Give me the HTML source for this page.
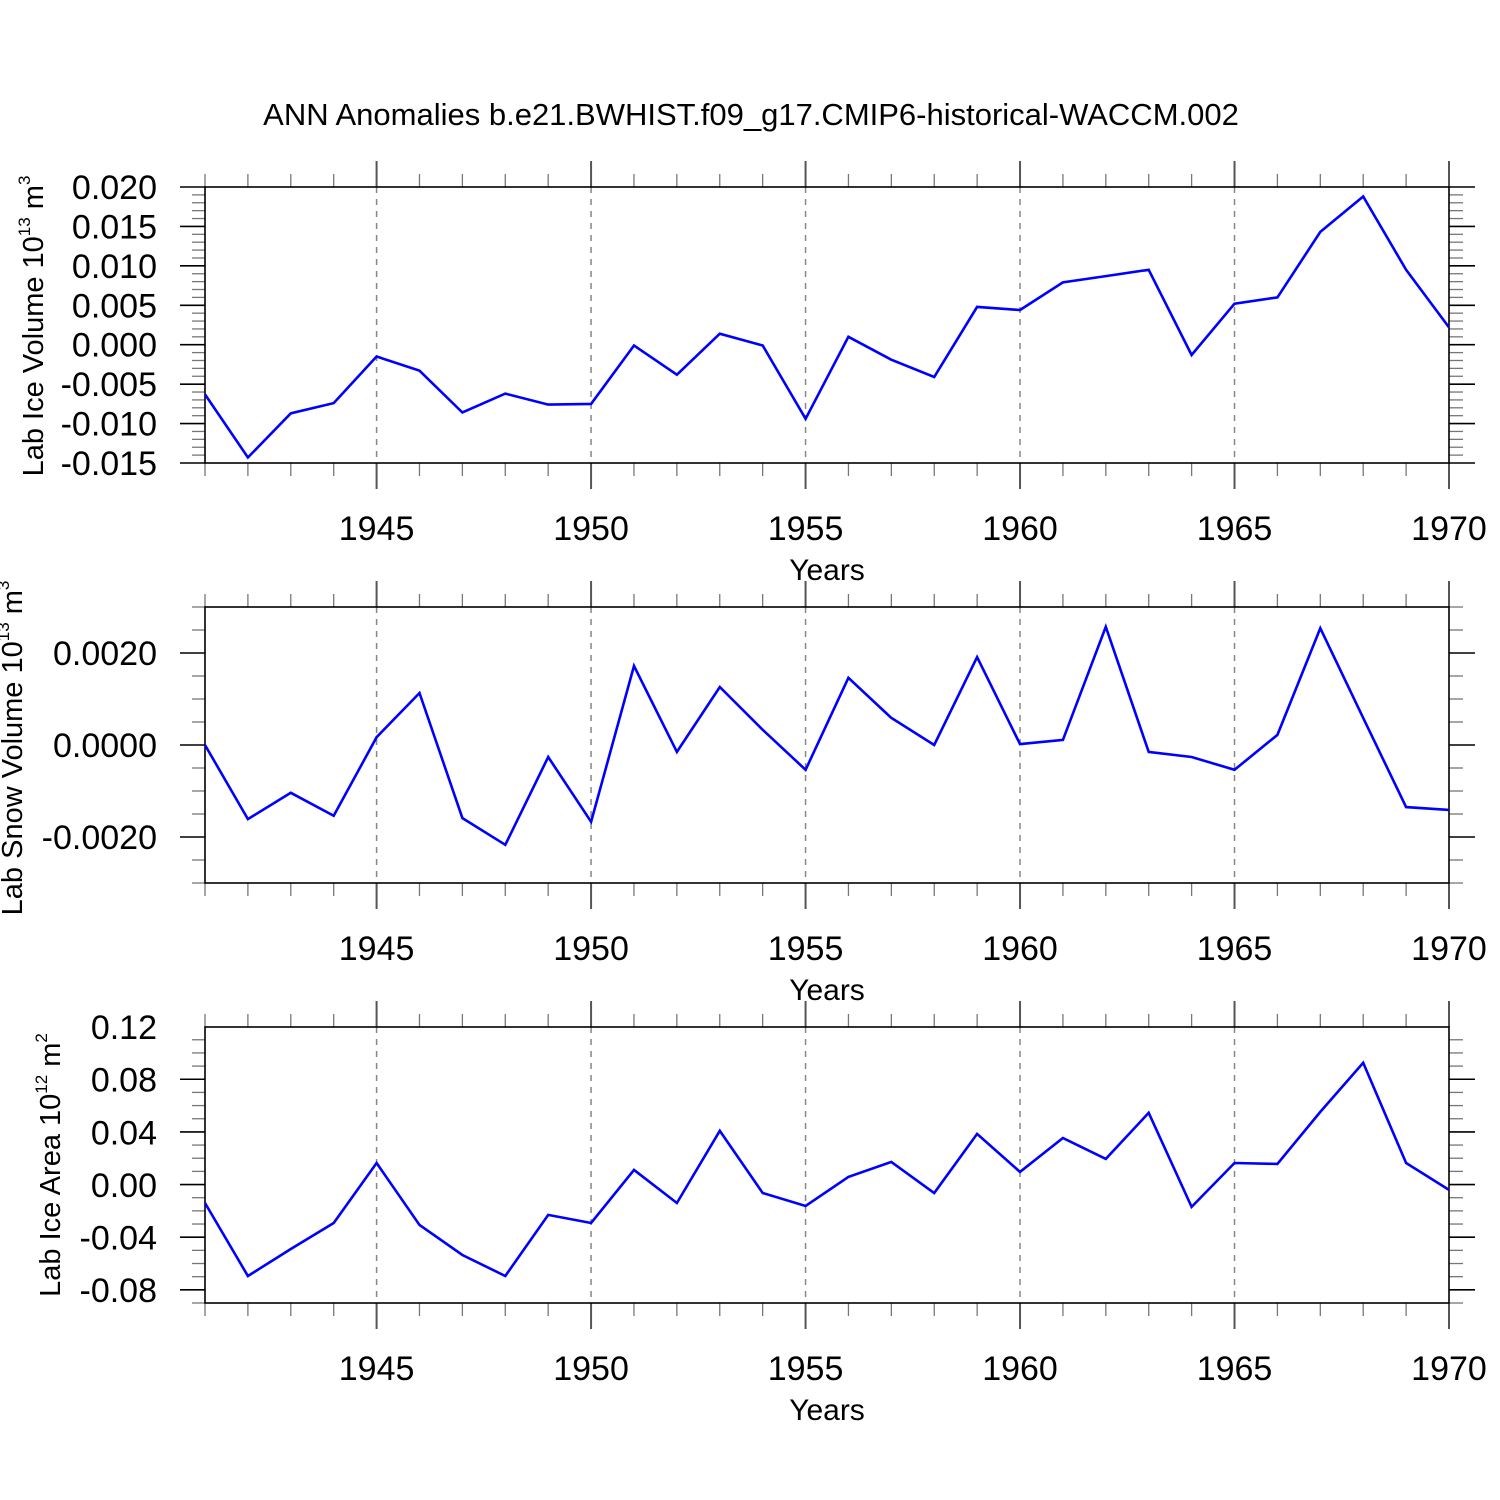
<!DOCTYPE html>
<html><head><meta charset="utf-8"><style>
html,body{margin:0;padding:0;background:#fff;}
svg{display:block;font-family:"Liberation Sans",Arial,sans-serif;}
</style></head><body>
<svg id="chart" width="1500" height="1500" viewBox="0 0 1500 1500" xmlns="http://www.w3.org/2000/svg">
<rect width="1500" height="1500" fill="#fff"/>
<text x="751" y="125" font-size="31" text-anchor="middle">ANN Anomalies b.e21.BWHIST.f09_g17.CMIP6-historical-WACCM.002</text>
</svg>
<script>
const years = [1941,1942,1943,1944,1945,1946,1947,1948,1949,1950,1951,1952,1953,1954,1955,1956,1957,1958,1959,1960,1961,1962,1963,1964,1965,1966,1967,1968,1969,1970];
const iceVolume = [-0.0063,-0.0143,-0.0087,-0.0074,-0.0015,-0.0033,-0.0086,-0.0062,-0.0076,-0.0075,-0.0001,-0.0038,0.0014,-0.0001,-0.0094,0.0010,-0.0019,-0.0041,0.0048,0.0044,0.0079,0.0087,0.0095,-0.0013,0.0052,0.0060,0.0143,0.0188,0.0095,0.0022];
const snowVolume = [0,-0.00161,-0.00104,-0.00154,0.00017,0.00113,-0.00159,-0.00217,-0.00026,-0.00167,0.00172,-0.00015,0.00126,0.00033,-0.00054,0.00146,0.00059,0,0.00191,0.00002,0.00011,0.00257,-0.00015,-0.00026,-0.00054,0.00022,0.00254,0.00059,-0.00135,-0.00141];
const iceArea = [-0.0137,-0.0692,-0.0487,-0.0289,0.0167,-0.0304,-0.0532,-0.0692,-0.0228,-0.0289,0.0114,-0.0137,0.0411,-0.0061,-0.016,0.0061,0.0175,-0.0061,0.0388,0.0099,0.0357,0.0198,0.0548,-0.0167,0.0167,0.016,0.0555,0.0928,0.0167,-0.0038];
const xTickLabels = ["1945","1950","1955","1960","1965","1970"];
const iceVolTicks = ["0.020","0.015","0.010","0.005","0.000","-0.005","-0.010","-0.015"];
const snowTicks = ["0.0020","0.0000","-0.0020"];
const areaTicks = ["0.12","0.08","0.04","0.00","-0.04","-0.08"];

const NS="http://www.w3.org/2000/svg";
const svg=document.getElementById('chart');
function mk(tag,attrs,parent){const e=document.createElementNS(NS,tag);for(const k in attrs)e.setAttribute(k,attrs[k]);(parent||svg).appendChild(e);return e;}
const X0=205,X1=1449,Y_MIN=1941,Y_MAX=1970;
function xs(yr){return X0+(yr-Y_MIN)/(Y_MAX-Y_MIN)*(X1-X0);}

function panel(cfg){
  const g=mk('g',{});
  
  
  const top=cfg.top,bot=cfg.top+276;
  const ys=v=>top+(cfg.max-v)/(cfg.max-cfg.min)*(bot-top);
  for(const l of xTickLabels){const yr=+l;if(yr>=Y_MAX)continue;
    const gl=mk('line',{x1:xs(yr),x2:xs(yr),y1:top,y2:bot,stroke:'#888','stroke-width':1.5,'stroke-dasharray':'6,6'},g);
    
    
  }
  for(let yr=Y_MIN;yr<=Y_MAX;yr++){const major=yr%5===0;const L=major?26:13;const x=xs(yr);
    mk('line',{x1:x,x2:x,y1:top-L,y2:top,stroke:major?'#555':'#777','stroke-width':major?2:1.3},g);
    mk('line',{x1:x,x2:x,y1:bot,y2:bot+L,stroke:major?'#555':'#777','stroke-width':major?2:1.3},g);
  }
  for(let v=cfg.min;v<=cfg.max+1e-9;v+=cfg.minor){
    const major=cfg.tickVals.some(t=>Math.abs(t-v)<cfg.minor/4);
    const L=major?25:13;const y=ys(v);
    mk('line',{x1:X0-L,x2:X0,y1:y,y2:y,stroke:major?'#000':'#777','stroke-width':major?1.6:1.3},g);
    mk('line',{x1:X1,x2:X1+L+1,y1:y,y2:y,stroke:major?'#000':'#777','stroke-width':major?1.6:1.3},g);
  }
  const fr=mk('rect',{x:X0,y:top,width:X1-X0,height:bot-top,fill:'none',stroke:'#000','stroke-width':1.6},g);
  
  
  cfg.tickLabels.forEach((t,i)=>{
    const tx=mk('text',{x:157,y:ys(cfg.tickVals[i])+12,'font-size':34,'text-anchor':'end'},g);
    tx.textContent=t;
    
    
  });
  xTickLabels.forEach(t=>{
    const tx=mk('text',{x:xs(+t),y:bot+77,'font-size':34,'text-anchor':'middle'},g);
    tx.textContent=t;
    
    
  });
  const xt=mk('text',{x:827,y:bot+117,'font-size':30,'text-anchor':'middle'},g);
  xt.textContent='Years';
  
  
  const yt=mk('text',{transform:`translate(${cfg.titleX},${cfg.titleY}) rotate(-90)`,'font-size':29,'text-anchor':'middle'},g);
  
  
  const t1=mk('tspan',{},yt);t1.textContent=cfg.title+' 10';
  const t2=mk('tspan',{'font-size':17,dy:-13},yt);t2.textContent=cfg.exp;
  const t3=mk('tspan',{dy:13},yt);t3.textContent=' m';
  const t4=mk('tspan',{'font-size':17,dy:-13},yt);t4.textContent=cfg.unitExp;
  const pts=years.map((yr,i)=>xs(yr).toFixed(1)+','+ys(cfg.data[i]).toFixed(1)).join(' ');
  const pl=mk('polyline',{points:pts,fill:'none',stroke:'#0000ff','stroke-width':2.6,'stroke-linejoin':'miter'},g);
  
  
}
panel({name:'ice-volume-panel',top:187,min:-0.015,max:0.020,minor:0.001,tickVals:[0.020,0.015,0.010,0.005,0,-0.005,-0.010,-0.015],tickLabels:iceVolTicks,data:iceVolume,title:'Lab Ice Volume',exp:'13',unitExp:'3',titleX:43,titleY:326});
panel({name:'snow-volume-panel',top:607,min:-0.003,max:0.003,minor:0.0005,tickVals:[0.002,0,-0.002],tickLabels:snowTicks,data:snowVolume,title:'Lab Snow Volume',exp:'13',unitExp:'3',titleX:22,titleY:748});
panel({name:'ice-area-panel',top:1027,min:-0.0897,max:0.12,minor:0.01,tickVals:[0.12,0.08,0.04,0,-0.04,-0.08],tickLabels:areaTicks,data:iceArea,title:'Lab Ice Area',exp:'12',unitExp:'2',titleX:60,titleY:1165});
</script>
</body></html>
